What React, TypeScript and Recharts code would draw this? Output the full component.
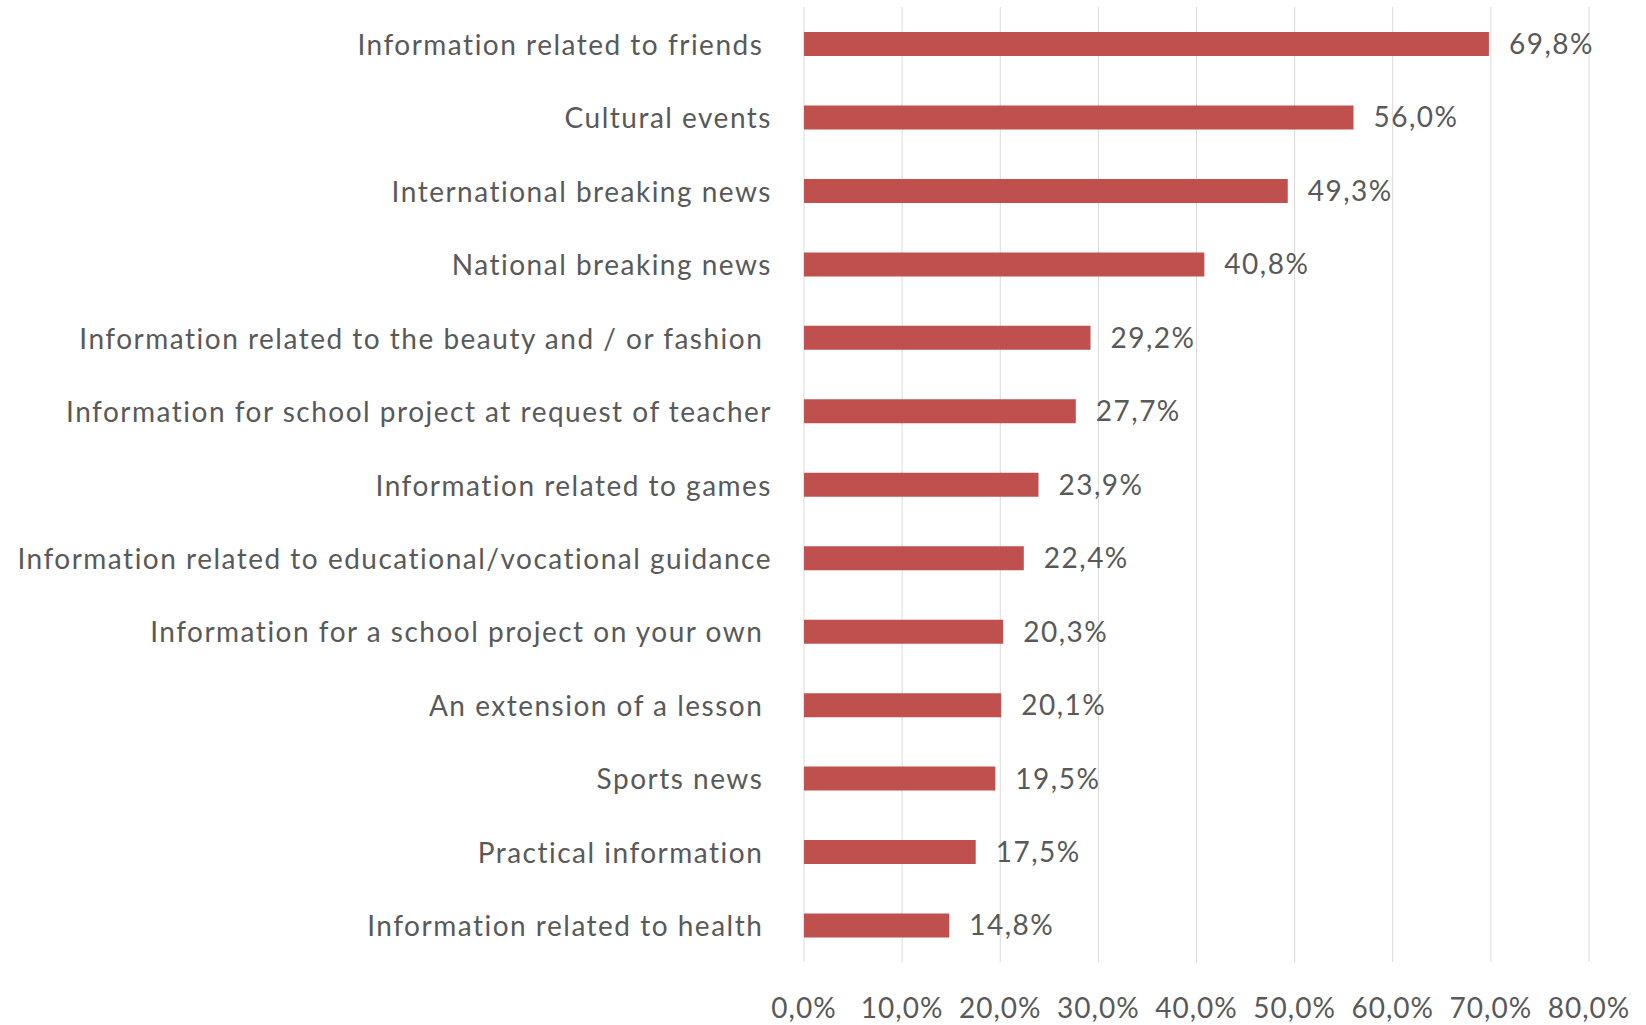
import React from "react";
import { BarChart, Bar, XAxis, YAxis, CartesianGrid, LabelList } from "recharts";

// categories, top to bottom (some carry a trailing space, as in the source sheet)
const categories = [
  "Information related to friends ",
  "Cultural events",
  "International breaking news",
  "National breaking news",
  "Information related to the beauty and / or fashion ",
  "Information for school project at request of teacher",
  "Information related to games",
  "Information related to educational/vocational guidance",
  "Information for a school project on your own ",
  "An extension of a lesson ",
  "Sports news ",
  "Practical information ",
  "Information related to health ",
];

// share of respondents, %
const shares = [69.8, 56.0, 49.3, 40.8, 29.2, 27.7, 23.9, 22.4, 20.3, 20.1, 19.5, 17.5, 14.8];

const xTicks = [0, 10, 20, 30, 40, 50, 60, 70, 80];

const data = categories.map((name, i) => ({ name, value: shares[i] }));

const pct = (v: number) => `${v.toFixed(1).replace(".", ",")}%`;

const FONT = "Lato, 'Open Sans', sans-serif";
const TEXT = "#595959";

// plain text tick so trailing spaces survive
const CategoryTick = (props: any) => {
  const { x, y, payload } = props;
  return (
    <text
      x={x}
      y={y}
      textAnchor="end"
      dominantBaseline="central"
      fill={TEXT}
      fontSize={28}
      fontFamily={FONT}
      letterSpacing={1.5}
      style={{ whiteSpace: "pre" }}
    >
      {payload.value}
    </text>
  );
};

export default function App() {
  return (
    <div style={{ position: "absolute", left: 0, top: 0, width: 1646, height: 1025, background: "#fff" }}>
      <BarChart
        width={1646}
        height={1025}
        data={data}
        layout="vertical"
        margin={{ top: 7, right: 57, bottom: 0, left: 0 }}
      >
        <CartesianGrid horizontal={false} stroke="#d9d9d9" />
        <XAxis
          type="number"
          domain={[0, 80]}
          ticks={xTicks}
          tickFormatter={pct}
          axisLine={false}
          tickLine={false}
          height={63}
          tickMargin={30}
          interval={0}
          tick={{ fill: TEXT, fontSize: 28, fontFamily: FONT, letterSpacing: 1 }}
        />
        <YAxis
          type="category"
          dataKey="name"
          width={804}
          axisLine={false}
          tickLine={false}
          tickMargin={26}
          interval={0}
          tick={<CategoryTick />}
        />
        <Bar dataKey="value" fill="#c0504d" barSize={24} isAnimationActive={false}>
          <LabelList
            dataKey="value"
            position="right"
            offset={20}
            formatter={(v: number) => pct(v)}
            style={{ fill: TEXT, fontSize: 28, fontFamily: FONT, letterSpacing: 1.5 }}
          />
        </Bar>
      </BarChart>
    </div>
  );
}
